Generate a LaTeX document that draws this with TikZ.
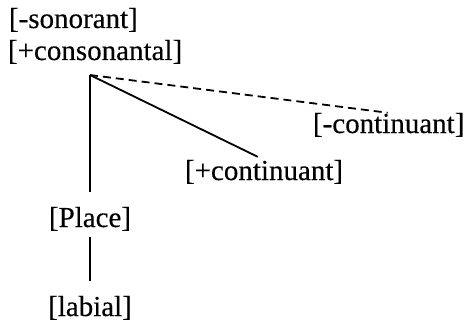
\documentclass[tikz,border=0pt]{standalone}
\usepackage{fontspec}
\setmainfont{Liberation Serif}
\newfontfamily\lblfont[FakeBold=0.3]{Liberation Serif}
\begin{document}
\begin{tikzpicture}[x=1pt,y=1pt,
  lbl/.style={inner sep=0pt, outer sep=0pt, font=\lblfont\fontsize{29}{32}\selectfont},
  edge/.style={line width=1.8pt},
  dashedge/.style={line width=1.8pt, dash pattern=on 8pt off 5pt}]
\useasboundingbox (0,0) rectangle (473,322);
\node[lbl, anchor=base west] (son) at (9,294) {[-sonorant]};
\node[lbl, anchor=base west] (cons) at (8,262) {[+consonantal]};
\coordinate (root) at (90,247);
\node[lbl, anchor=base] (place) at (90,95) {[Place]};
\node[lbl, anchor=base] (labial) at (90,6) {[labial]};
\node[lbl, anchor=base west] (pluscont) at (185,142) {[+continuant]};
\node[lbl, anchor=base west] (minuscont) at (313,189) {[-continuant]};
\draw[edge, shorten >=15pt] (root) -- (place.north);
\draw[edge, shorten <=6pt, shorten >=15pt] (place.south) -- (labial.north);
\draw[edge, shorten >=7pt] (root) -- (pluscont.north);
\draw[dashedge, shorten >=1pt] (root) -- (minuscont.north);
\end{tikzpicture}
\end{document}
